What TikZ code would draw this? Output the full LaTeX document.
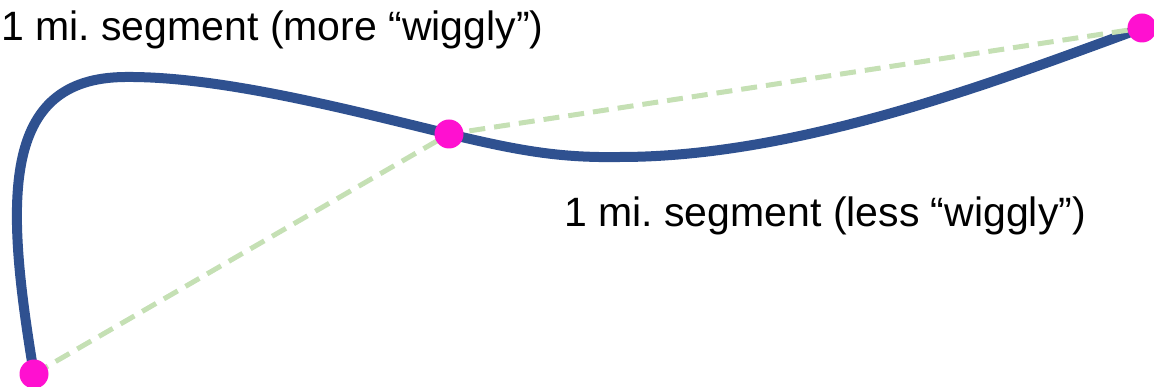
\documentclass[tikz,border=0pt]{standalone}
\usepackage{fontspec}
\setmainfont{Liberation Sans}
\frenchspacing
\definecolor{pathblue}{HTML}{2F5190}
\definecolor{chordgreen}{HTML}{C5E0B4}
\definecolor{dotpink}{HTML}{FF10D0}
\begin{document}
\begin{tikzpicture}[x=1pt,y=-1pt,
  pathline/.style={draw=pathblue,line width=10pt,line cap=round},
  chord/.style={draw=chordgreen,line width=5pt,dash pattern=on 16pt off 9pt},
  dotmark/.style={circle,fill=dotpink,minimum size=29pt,inner sep=0pt},
  lbl/.style={anchor=base west,inner sep=0pt,font=\fontsize{41}{49}\selectfont}]
\useasboundingbox (0,0) rectangle (1154,387);
\coordinate (A) at (34,374);
\coordinate (B) at (449,134);
\coordinate (C) at (1142,28);
\draw[pathline] (A) .. controls (5,200) and (0,78) .. (125,77)
  .. controls (220,76) and (350,110) .. (B)
  .. controls (520,151) and (560,158) .. (620,157)
  .. controls (800,157) and (1000,80) .. (C);
\draw[chord] (A) -- (B) -- (C);
\node[dotmark] (a) at (A) {};
\node[dotmark] (b) at (B) {};
\node[dotmark] (c) at (C) {};
\node[lbl] (t1) at (1,41) {1 mi. segment (more “wiggly”)};
\node[lbl] (t2) at (564,227) {1 mi. segment (less “wiggly”)};
\end{tikzpicture}
\end{document}
